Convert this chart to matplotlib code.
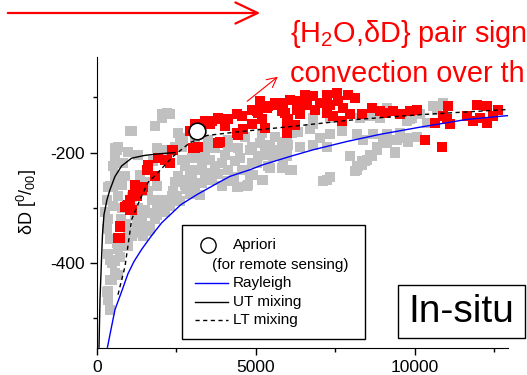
import matplotlib
matplotlib.use('Agg')
import matplotlib.pyplot as plt
from matplotlib.lines import Line2D
from matplotlib.patches import Rectangle, FancyArrowPatch

plt.rcParams['font.family'] = ['Liberation Sans', 'DejaVu Sans']
plt.rcParams['mathtext.default'] = 'regular'
plt.rcParams['axes.unicode_minus'] = False

# in-situ measurements (H2O in ppmv, dD in permil)
gray_x = [2035, 2296, 1824, 1091, 2547, 2705, 660, 566, 975, 1289, 503, 817, 566, 346, 305,
          252, 346, 503, 660, 777, 881, 305, 409, 660, 1510, 1877, 1720, 1510, 1406, 1249,
          1091, 975, 2035, 2035, 1824, 1667, 1446, 2453, 2349, 2296, 2138, 2547, 2767, 3082,
          2663, 2925, 3293, 3491, 3711, 3922, 4120, 4340, 3607, 3922, 4434, 4749, 5180, 5378,
          4550, 4865, 5063, 5378, 5692, 6007, 5809, 6070, 5283, 4865, 4434, 4120, 3711, 3396,
          2663, 2978, 2610, 2506, 3491, 4120, 4654, 5180, 5598, 6123, 5809, 1510, 1877, 2192,
          409, 346, 462, 566, 409, 346, 346, 619, 934, 975, 1289, 1604, 660, 566, 409, 305,
          462, 660, 409, 723,
          5966, 6321, 6699, 7013, 7328, 7696, 8168, 8680, 9120, 9529, 10064, 6793, 6384, 6793,
          7224, 5966, 5755, 7957, 8365, 8796, 9111, 8586, 8428, 8208, 8114, 9372, 6123, 7328,
          7107, 8900, 9111, 9309, 8586, 8271, 6793, 7328,
          10567, 10882, 10158, 9844, 10378, 9435, 9750, 8994, 9372, 8806, 8648, 8491, 8334,
          8177, 10882, 9750, 9906, 9624, 9781, 10473,
          4393, 4707, 5220, 5441, 7224, 8168, 8324, 5535, 5966, 5023, 4497, 4812,
          2192, 2035, 2610, 2453, 2138, 1877, 1761, 4078, 4812, 5849, 10683, 1038, 566,
          3082, 5126, 5441, 3239, 3554, 4654, 4025, 2767, 3082, 3239, 2925, 409, 619,
          2400, 2800, 3300, 3600, 1900, 2200, 3000, 2600, 3800, 1300, 1200, 1700, 800, 900,
          1100, 1600, 2900, 3400, 4300, 4900, 1350, 750, 500]
gray_y = [-131, -131, -152, -161, -164, -177, -189, -209, -198, -204, -225, -218, -243, -263, -285,
          -308, -321, -297, -279, -258, -243, -339, -357, -369, -254, -261, -285, -303, -321, -333,
          -351, -369, -285, -303, -321, -339, -351, -254, -279, -297, -308, -243, -225, -231,
          -213, -243, -218, -236, -225, -218, -231, -216, -249, -261, -263, -258, -249, -225,
          -231, -218, -207, -204, -195, -186, -227, -231, -189, -189, -191, -189, -191, -195,
          -189, -209, -288, -279, -177, -177, -171, -164, -171, -164, -180, -333, -312, -297,
          -357, -384, -399, -417, -430, -451, -466, -363, -357, -345, -345, -342, -375, -397, -484, -453,
          -430, -421, -394, -388,
          -171, -162, -158, -173, -167, -161, -167, -167, -167, -164, -171, -149, -189, -186,
          -189, -195, -207, -207, -177, -189, -182, -204, -216, -225, -234, -200, -231, -245,
          -252, -137, -119, -125, -134, -137, -137, -137,
          -116, -113, -131, -140, -146, -177, -173, -177, -198, -195, -207, -213, -222,
          -231, -110, -143, -137, -173, -180, -146,
          -263, -261, -249, -227, -249, -225, -216, -207, -207, -218, -209, -195,
          -128, -137, -173, -189, -195, -191, -216, -252, -240, -218, -122, -161, -191,
          -177, -182, -186, -204, -213, -231, -204, -258, -258, -276, -275, -261, -195,
          -270, -265, -255, -245, -300, -285, -240, -250, -238, -300, -315, -310, -300, -330,
          -280, -270, -258, -236, -245, -240, -240, -320, -260]

red_x = [723, 723, 881, 1038, 1132, 1258, 1195, 934, 1195, 1406, 1249, 1038, 1563, 1604, 1824,
         1918, 2192, 2296, 2390, 3082, 3176, 2925, 3396, 3554, 3805, 4025, 4120, 3868, 4393,
         4550, 4434, 4591, 4875, 5063, 5189, 5378, 5598, 5818, 5975, 6007, 4875, 5283,
         5849, 6070, 6321, 6793, 7233, 7548, 7894, 8114, 5912, 6290, 6604, 7013, 7328, 7579,
         5975, 6227, 5975, 7233, 7422, 7705, 7957, 8334, 8648, 8900, 9058, 9309, 9529, 9844,
         10064, 11039, 11008, 10882, 11102, 10630, 10315, 10850, 11636, 11951, 12265, 12611,
         12045, 12265, 11825, 12454,
         3082, 3607, 3922, 3805, 3019, 4403, 5032, 5346, 5661, 2349, 2138, 1604, 1446, 975,
         1091, 723, 660, 6384, 6856, 7751, 6541, 5126]
red_y = [-334, -354, -298, -285, -276, -267, -258, -297, -261, -267, -279, -303, -231, -222, -243,
         -209, -213, -218, -195, -191, -189, -161, -143, -149, -137, -152, -140, -180, -131,
         -134, -168, -158, -122, -128, -140, -116, -110, -125, -158, -140, -149, -155,
         -110, -104, -107, -98, -95, -92, -95, -101, -128, -122, -113, -110, -113, -107,
         -146, -150, -164, -128, -134, -143, -131, -131, -119, -125, -128, -125, -131, -125,
         -122, -116, -140, -134, -149, -146, -177, -189, -134, -113, -116, -122,
         -137, -146, -143, -134,
         -149, -143, -140, -182, -191, -164, -125, -119, -113, -195, -213, -225, -263, -294,
         -303, -333, -354, -131, -122, -119, -95, -107]

# model curves
rayleigh_x = [330, 409, 566, 777, 975, 1164, 1406, 1720, 2035, 2642, 3145, 3764, 4183, 4812,
              5220, 6070, 6793, 7853, 8900, 10158, 11627, 12926]
rayleigh_y = [-552, -529, -484, -451, -419, -397, -375, -350, -327, -294, -276, -256, -243, -231,
              -222, -207, -195, -180, -167, -154, -140, -133]
ut_x = [63, 94, 142, 173, 220, 315, 409, 566, 777, 1091, 1510, 1981, 2453]
ut_y = [-552, -466, -393, -348, -312, -285, -267, -243, -224, -210, -205, -202, -200]
lt_x = [660, 881, 1091, 1352, 1604, 1918, 2390, 2925, 3460, 4497, 6070, 8177, 10253, 12926]
lt_y = [-457, -406, -321, -285, -254, -236, -207, -182, -169, -162, -153, -140, -131, -122]
apriori_x = [3132]
apriori_y = [-161]

W, H = 527, 375


def fpos(px, py):
    return px / W, 1 - py / H


fig = plt.figure(figsize=(W / 100, H / 100), dpi=100)
ax = fig.add_axes([97 / W, 1 - 347.7 / H, (508 - 97) / W, (347.7 - 57) / H])

ax.scatter(gray_x, gray_y, marker='s', s=58, color='#c0c0c0', linewidths=0, zorder=1)
ax.scatter(red_x, red_y, marker='s', s=58, color='#ff0000', linewidths=0, zorder=2)
ax.plot(rayleigh_x, rayleigh_y, color='#0000ff', lw=1, zorder=3)
ax.plot(ut_x, ut_y, color='black', lw=1, zorder=3)
ax.plot(lt_x, lt_y, color='black', lw=1, ls=(0, (3, 2.5)), zorder=3)
ax.plot(apriori_x, apriori_y, 'o', ms=12, mfc='white', mec='black', mew=1.2, zorder=4)

ax.set_xlim(0, 12930)
ax.set_ylim(-553, -27)
ax.set_xticks([0, 5000, 10000])
ax.set_xticks([2500, 7500, 12500], minor=True)
ax.set_yticks([-400, -200])
ax.set_yticks([-500, -300, -100], minor=True)
ax.tick_params(which='both', direction='out', width=1, labelsize=12.5)
ax.tick_params(which='major', length=5)
ax.tick_params(which='minor', length=3)
for s in ['top', 'right']:
    ax.spines[s].set_visible(False)
ax.set_ylabel('δD [$^{0}$/$_{00}$]', fontsize=13)
ax.yaxis.set_label_coords(-0.141, 0.5)

# legend drawn by hand to keep the two-line Apriori entry
x0, y0 = fpos(182, 339)
x1, y1 = fpos(365, 225)
fig.add_artist(Rectangle((x0, y0), x1 - x0, y1 - y0, transform=fig.transFigure,
                         facecolor='white', edgecolor='black', lw=1, zorder=5))
fig.add_artist(Line2D([fpos(208, 0)[0]], [fpos(0, 245)[1]], marker='o', ms=11, mfc='white',
                      mec='black', mew=1, transform=fig.transFigure, zorder=6))
fig.text(*fpos(233, 245), 'Apriori', fontsize=11, va='center', zorder=6)
fig.text(*fpos(212, 265), '(for remote sensing)', fontsize=11, va='center', zorder=6)
leg_items = [('Rayleigh', '#0000ff', '-', 283), ('UT mixing', 'black', '-', 302),
             ('LT mixing', 'black', (0, (3, 2.5)), 320)]
for lab, col, ls, py in leg_items:
    xa, ya = fpos(195, py)
    xb, _ = fpos(228, py)
    fig.add_artist(Line2D([xa, xb], [ya, ya], color=col, ls=ls, lw=1,
                          transform=fig.transFigure, zorder=6))
    fig.text(*fpos(233, py), lab, fontsize=11, va='center', zorder=6)

# In-situ box
x0, y0 = fpos(398, 338)
x1, y1 = fpos(525, 285)
fig.add_artist(Rectangle((x0, y0), x1 - x0, y1 - y0, transform=fig.transFigure,
                         facecolor='white', edgecolor='black', lw=1, zorder=5))
fig.text(*fpos(461.5, 312), 'In-situ', fontsize=28, ha='center', va='center', zorder=6)

# red annotations on top (text runs to the right edge as in the source)
fig.add_artist(FancyArrowPatch(fpos(5, 13), fpos(263, 13), transform=fig.transFigure,
                               arrowstyle='->,head_length=0.8,head_width=0.38',
                               mutation_scale=20, color='#ff0000', lw=1.6))
fig.add_artist(FancyArrowPatch(fpos(245, 103), fpos(280, 75), transform=fig.transFigure,
                               arrowstyle='->,head_length=0.35,head_width=0.18',
                               mutation_scale=20, color='#ff0000', lw=0.8))
fig.text(*fpos(290, 42), '{H$_2$O,δD} pair sign', fontsize=20.8, color='#ff0000', va='baseline')
fig.text(*fpos(290, 82), 'convection over th', fontsize=20.8, color='#ff0000', va='baseline')

fig.savefig('out.png', dpi=100)
